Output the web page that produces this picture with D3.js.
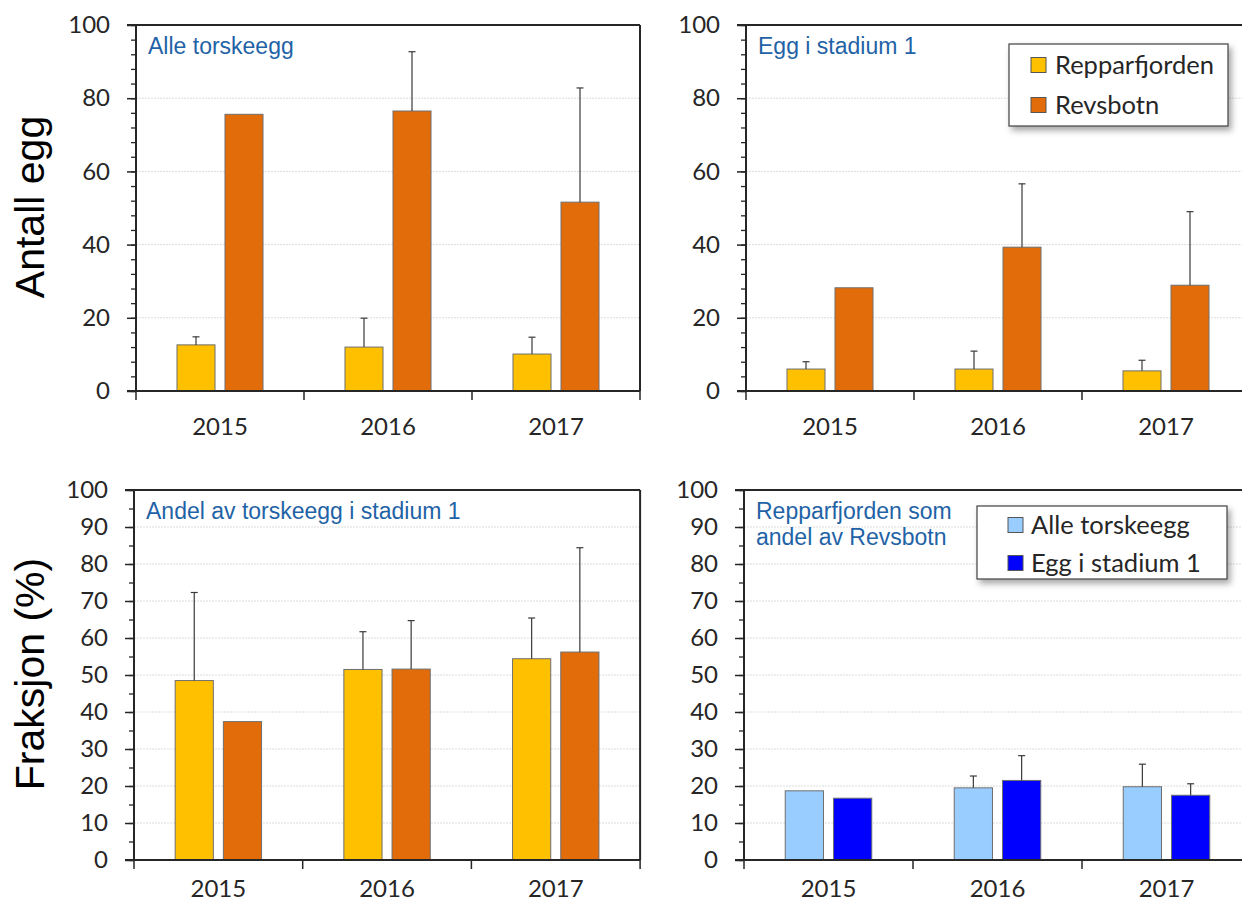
<!DOCTYPE html>
<html>
<head>
<meta charset="utf-8">
<script src="https://cdn.jsdelivr.net/npm/d3@7"></script>
<style>
  html, body { margin: 0; padding: 0; background: #fff; }
  svg { display: block; }
</style>
</head>
<body>
<svg id="chart" width="1242" height="906"></svg>
<script>
// Categories
const years = ["2015", "2016", "2017"];

// Alle torskeegg (mean number of eggs, upward SD)
const alleRepp = [12.6, 12.0, 10.1];
const alleReppSd = [2.2, 7.9, 4.6];
const alleRevs = [75.6, 76.5, 51.6];
const alleRevsSd = [0, 16.2, 31.2];

// Egg i stadium 1
const st1Repp = [6.0, 6.0, 5.5];
const st1ReppSd = [2.0, 4.9, 2.9];
const st1Revs = [28.2, 39.3, 28.9];
const st1RevsSd = [0, 17.3, 20.1];

// Andel av torskeegg i stadium 1 (%)
const andelRepp = [48.5, 51.5, 54.4];
const andelReppSd = [23.8, 10.2, 11.0];
const andelRevs = [37.4, 51.6, 56.2];
const andelRevsSd = [0, 13.1, 28.2];

// Repparfjorden som andel av Revsbotn (%)
const ratioAlle = [18.7, 19.5, 19.8];
const ratioAlleSd = [0, 3.2, 6.1];
const ratioSt1 = [16.7, 21.5, 17.5];
const ratioSt1Sd = [0, 6.7, 3.1];

// Axis tick values
const ticksCount = [0, 20, 40, 60, 80, 100];
const minorCount = d3.range(0, 101, 4);
const ticksPct = [0, 10, 20, 30, 40, 50, 60, 70, 80, 90, 100];
const minorPct = d3.range(0, 101, 5);

// Legend labels
const legendSites = ["Repparfjorden", "Revsbotn"];
const legendStages = ["Alle torskeegg", "Egg i stadium 1"];

const YELLOW = "#FFC000", ORANGE = "#E36C0A", LIGHTBLUE = "#99CCFF", BLUE = "#0000FF";
const TITLE_COLOR = "#1F63A6";
const TICK_FONT = "Lato, 'Open Sans', sans-serif";
const TITLE_FONT = "'Liberation Sans', Arial, sans-serif";

const svg = d3.select("#chart");

// drop shadow for legend boxes
const defs = svg.append("defs");
const f = defs.append("filter").attr("id", "shadow")
  .attr("x", "-10%").attr("y", "-20%").attr("width", "130%").attr("height", "160%");
f.append("feDropShadow").attr("dx", 3).attr("dy", 4).attr("stdDeviation", 3)
  .attr("flood-color", "#000").attr("flood-opacity", 0.35);

const panels = [
  { left: 136, top: 25, bottom: 391, band: 168, ticks: ticksCount, minor: minorCount, labelDy: 44,
    title: ["Alle torskeegg"], series: [[alleRepp, alleReppSd], [alleRevs, alleRevsSd]],
    colors: [YELLOW, ORANGE], rightBorder: true },
  { left: 746, top: 25, bottom: 391, band: 168, ticks: ticksCount, minor: minorCount, labelDy: 44,
    title: ["Egg i stadium 1"], series: [[st1Repp, st1ReppSd], [st1Revs, st1RevsSd]],
    colors: [YELLOW, ORANGE], rightBorder: false,
    legend: { labels: legendSites, colors: [YELLOW, ORANGE], x: 1009, y: 44, w: 219, h: 82, row0: 65, dy: 40, sw: 1031, tx: 1055 } },
  { left: 134, top: 490, bottom: 860, band: 168.7, ticks: ticksPct, minor: minorPct, labelDy: 37,
    title: ["Andel av torskeegg i stadium 1"], series: [[andelRepp, andelReppSd], [andelRevs, andelRevsSd]],
    colors: [YELLOW, ORANGE], rightBorder: true },
  { left: 744, top: 490, bottom: 860, band: 169, ticks: ticksPct, minor: minorPct, labelDy: 37,
    title: ["Repparfjorden som", "andel av Revsbotn"], series: [[ratioAlle, ratioAlleSd], [ratioSt1, ratioSt1Sd]],
    colors: [LIGHTBLUE, BLUE], rightBorder: false,
    legend: { labels: legendStages, colors: [LIGHTBLUE, BLUE], x: 977, y: 506, w: 250, h: 73, row0: 525, dy: 38, sw: 1008, tx: 1031 } }
];

panels.forEach(p => {
  const g = svg.append("g");
  const right = p.left + p.band * years.length;
  const x = d3.scaleBand().domain(years).range([p.left, right]).paddingInner(0).paddingOuter(0);
  const xs = d3.scaleBand().domain([0, 1]).range([0, x.bandwidth()]).paddingInner(0.208).paddingOuter(0.854);
  const y = d3.scaleLinear().domain([0, 100]).range([p.bottom, p.top]);

  // horizontal gridlines
  g.append("g").selectAll("line").data(p.ticks.filter(v => v > 0 && v < 100)).join("line")
    .attr("x1", p.left).attr("x2", right)
    .attr("y1", d => y(d)).attr("y2", d => y(d))
    .attr("stroke", "#dcdcdc").attr("stroke-width", 1).attr("stroke-dasharray", "2,1");

  // bars
  p.series.forEach((s, si) => {
    const [vals, sds] = s;
    g.append("g").selectAll("rect").data(years).join("rect")
      .attr("x", (d) => x(d) + xs(si))
      .attr("width", xs.bandwidth())
      .attr("y", (d, i) => y(vals[i]))
      .attr("height", (d, i) => y(0) - y(vals[i]))
      .attr("fill", p.colors[si])
      .attr("stroke", "#6f6f6f").attr("stroke-width", 1);

    // upward error bars
    const eg = g.append("g").attr("stroke", "#3a3a3a").attr("stroke-width", 1.2);
    years.forEach((d, i) => {
      if (!sds[i]) return;
      const cx = x(d) + xs(si) + xs.bandwidth() / 2;
      eg.append("line").attr("x1", cx).attr("x2", cx).attr("y1", y(vals[i])).attr("y2", y(vals[i] + sds[i]));
      eg.append("line").attr("x1", cx - 3.5).attr("x2", cx + 3.5).attr("y1", y(vals[i] + sds[i])).attr("y2", y(vals[i] + sds[i]));
    });
  });

  // y axis: minor ticks
  const minorAxis = d3.axisLeft(y).tickValues(p.minor).tickSize(5).tickFormat("");
  const ma = g.append("g").attr("transform", `translate(${p.left},0)`).call(minorAxis);
  ma.select(".domain").remove();
  ma.selectAll("line").attr("stroke", "#262626").attr("stroke-width", 1.3);

  // y axis: major ticks and labels
  const majorAxis = d3.axisLeft(y).tickValues(p.ticks).tickSize(9).tickPadding(17);
  const ya = g.append("g").attr("transform", `translate(${p.left},0)`).call(majorAxis);
  ya.select(".domain").remove();
  ya.selectAll("line").attr("stroke", "#262626").attr("stroke-width", 1.5);
  ya.selectAll("text").attr("font-family", TICK_FONT).attr("font-size", 24).attr("fill", "#262626");

  // x axis ticks at category boundaries
  const bounds = years.map(d => x(d)).concat([right]);
  g.append("g").selectAll("line").data(bounds).join("line")
    .attr("x1", d => d).attr("x2", d => d)
    .attr("y1", p.bottom).attr("y2", p.bottom + 9)
    .attr("stroke", "#262626").attr("stroke-width", 1.5);
  g.append("g").selectAll("text").data(years).join("text")
    .attr("x", d => x(d) + x.bandwidth() / 2)
    .attr("y", p.bottom + p.labelDy)
    .attr("text-anchor", "middle")
    .attr("font-family", TICK_FONT).attr("font-size", 24).attr("fill", "#262626")
    .text(d => d);

  // frame
  const fr = g.append("g").attr("stroke", "#262626").attr("stroke-width", 2).attr("fill", "none");
  fr.append("line").attr("x1", p.left).attr("x2", p.left).attr("y1", p.top).attr("y2", p.bottom);
  fr.append("line").attr("x1", p.left - 9).attr("x2", right).attr("y1", p.bottom).attr("y2", p.bottom);
  fr.append("line").attr("x1", p.left - 9).attr("x2", right).attr("y1", p.top).attr("y2", p.top);
  if (p.rightBorder) fr.append("line").attr("x1", right).attr("x2", right).attr("y1", p.top).attr("y2", p.bottom);

  // panel title
  const t = g.append("text").attr("font-family", TITLE_FONT).attr("font-size", 23).attr("fill", TITLE_COLOR);
  p.title.forEach((line, i) => {
    t.append("tspan").attr("x", p.left + 12).attr("y", p.top + 29 + i * 26).text(line);
  });

  // legend
  if (p.legend) {
    const L = p.legend;
    const lg = g.append("g");
    lg.append("rect").attr("x", L.x).attr("y", L.y).attr("width", L.w).attr("height", L.h)
      .attr("fill", "#fff").attr("stroke", "#404040").attr("stroke-width", 1.2)
      .attr("filter", "url(#shadow)");
    L.labels.forEach((lab, i) => {
      const cy = L.row0 + i * L.dy;
      lg.append("rect").attr("x", L.sw).attr("y", cy - 7.5).attr("width", 15).attr("height", 15)
        .attr("fill", L.colors[i]).attr("stroke", "#555").attr("stroke-width", 1);
      lg.append("text").attr("x", L.tx).attr("y", cy).attr("dy", "0.36em")
        .attr("font-family", TICK_FONT).attr("font-size", 25.5).attr("fill", "#262626").text(lab);
    });
  }
});

// y axis titles
svg.append("text")
  .attr("transform", "translate(44,207) rotate(-90)")
  .attr("text-anchor", "middle")
  .attr("font-family", TITLE_FONT).attr("font-size", 41).attr("fill", "#000")
  .text("Antall egg");
svg.append("text")
  .attr("transform", "translate(44,674) rotate(-90)")
  .attr("text-anchor", "middle")
  .attr("font-family", TITLE_FONT).attr("font-size", 41).attr("fill", "#000")
  .text("Fraksjon (%)");
</script>
</body>
</html>
